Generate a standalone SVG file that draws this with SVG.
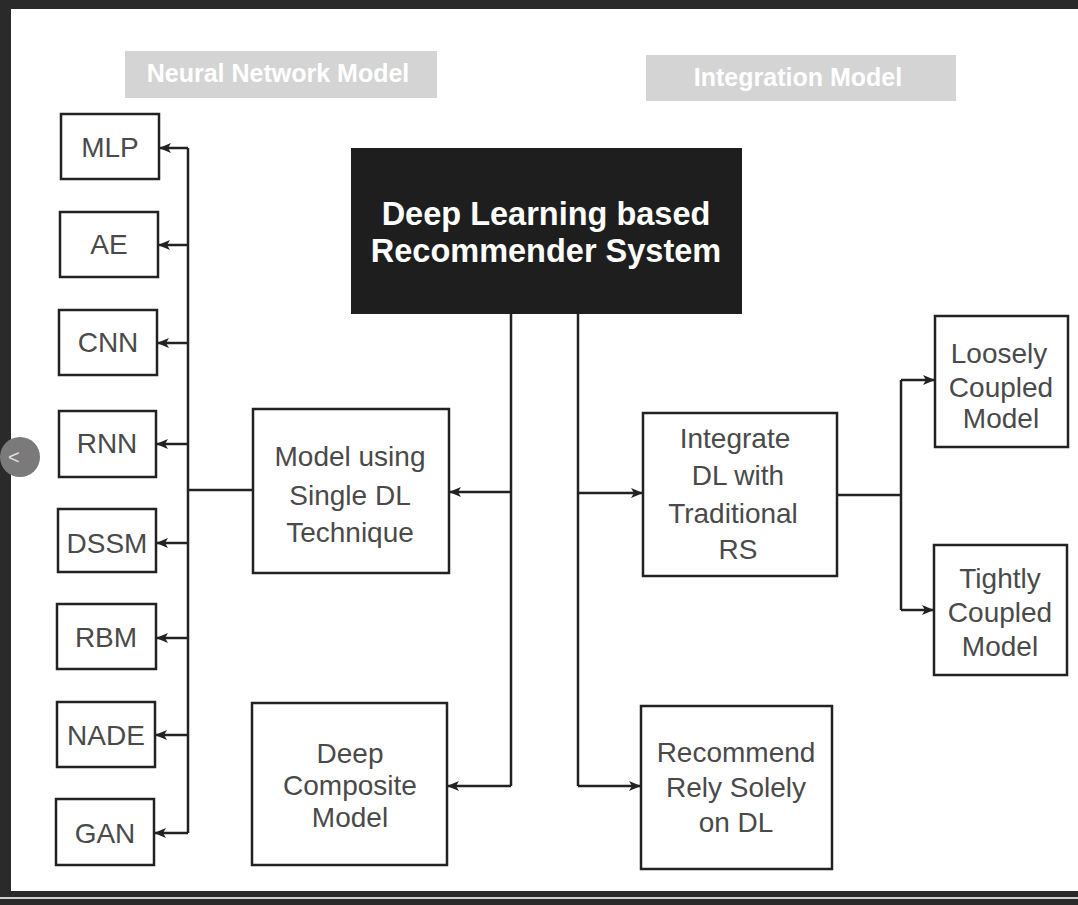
<svg xmlns="http://www.w3.org/2000/svg" width="1078" height="905" viewBox="0 0 1078 905">
<defs>
<marker id="ah" markerWidth="12" markerHeight="10" refX="11" refY="5" orient="auto" markerUnits="userSpaceOnUse">
<path d="M0,0 L12,5 L0,10 L3,5 z" fill="#222"/>
</marker>
<style>
.box{fill:#fff;stroke:#222;stroke-width:2.5}
.t{font-family:"Liberation Sans",Arial,sans-serif;font-size:28px;fill:#4a4a4a;text-anchor:middle}
.lbl{font-family:"Liberation Sans",Arial,sans-serif;font-size:25px;font-weight:bold;fill:#fff;text-anchor:middle}
.ln{fill:none;stroke:#222;stroke-width:2.5}
.arr{fill:none;stroke:#222;stroke-width:2.5;marker-end:url(#ah)}
</style>
</defs>
<rect x="0" y="0" width="1078" height="905" fill="#fff"/>
<rect x="0" y="0" width="1078" height="9" fill="#2a2a2a"/>
<rect x="0" y="0" width="11" height="905" fill="#2a2a2a"/>
<rect x="0" y="891" width="1078" height="6" fill="#2a2a2a"/>
<rect x="0" y="897" width="1078" height="2" fill="#cfcfcf"/>
<rect x="0" y="899" width="1078" height="6" fill="#2a2a2a"/>
<g id="nav">
<circle cx="20" cy="457" r="20" fill="#7a7a7a"/>
<text x="8" y="464" font-family="Liberation Sans,sans-serif" font-size="20" fill="#ddd">&lt;</text>
</g>

<g id="label-nn">
<rect x="125" y="51" width="312" height="47" fill="#d4d4d4"/>
<text class="lbl" x="278" y="82">Neural Network Model</text>
</g>
<g id="label-int">
<rect x="646" y="55" width="310" height="46" fill="#d4d4d4"/>
<text class="lbl" x="798" y="86">Integration Model</text>
</g>

<g id="connectors">
<polyline class="ln" points="188,148 188,833"/>
<line class="arr" x1="188" y1="148" x2="160" y2="148"/>
<line class="arr" x1="188" y1="245" x2="159" y2="245"/>
<line class="arr" x1="188" y1="343" x2="158" y2="343"/>
<line class="arr" x1="188" y1="444" x2="157" y2="444"/>
<line class="arr" x1="188" y1="543" x2="157" y2="543"/>
<line class="arr" x1="188" y1="638" x2="157" y2="638"/>
<line class="arr" x1="188" y1="735" x2="156" y2="735"/>
<line class="arr" x1="188" y1="833" x2="155" y2="833"/>
<line class="ln" x1="188" y1="490" x2="253" y2="490"/>
<polyline class="ln" points="511,314 511,786"/>
<line class="arr" x1="511" y1="492" x2="450" y2="492"/>
<line class="arr" x1="511" y1="786" x2="448" y2="786"/>
<polyline class="ln" points="578,314 578,786"/>
<line class="arr" x1="578" y1="493" x2="642" y2="493"/>
<line class="arr" x1="578" y1="786" x2="640" y2="786"/>
<line class="ln" x1="837" y1="495" x2="901" y2="495"/>
<polyline class="ln" points="901,380 901,610"/>
<line class="arr" x1="901" y1="380" x2="934" y2="380"/>
<line class="arr" x1="901" y1="610" x2="933" y2="610"/>
</g>

<g id="root">
<rect x="351" y="148" width="391" height="166" fill="#1e1e1e"/>
<text x="546" y="225" font-family="Liberation Sans,Arial,sans-serif" font-size="32.5" font-weight="bold" fill="#fff" text-anchor="middle">Deep Learning based</text>
<text x="546" y="262" font-family="Liberation Sans,Arial,sans-serif" font-size="32.5" font-weight="bold" fill="#fff" text-anchor="middle">Recommender System</text>
</g>

<g id="mlp"><rect class="box" x="61" y="114" width="98" height="65"/><text class="t" x="110" y="157">MLP</text></g>
<g id="ae"><rect class="box" x="60" y="212" width="98" height="65"/><text class="t" x="109" y="254">AE</text></g>
<g id="cnn"><rect class="box" x="59" y="310" width="98" height="65"/><text class="t" x="108" y="352">CNN</text></g>
<g id="rnn"><rect class="box" x="59" y="411" width="97" height="66"/><text class="t" x="107" y="453">RNN</text></g>
<g id="dssm"><rect class="box" x="58" y="509" width="98" height="63"/><text class="t" x="107" y="553" font-size="31">DSSM</text></g>
<g id="rbm"><rect class="box" x="57" y="604" width="99" height="65"/><text class="t" x="106" y="647">RBM</text></g>
<g id="nade"><rect class="box" x="57" y="702" width="98" height="65"/><text class="t" x="106" y="745">NADE</text></g>
<g id="gan"><rect class="box" x="56" y="799" width="98" height="66"/><text class="t" x="105" y="843">GAN</text></g>

<g id="single">
<rect class="box" x="253" y="409" width="196" height="164"/>
<text class="t" x="350" y="466" font-size="29">Model using</text>
<text class="t" x="350" y="505">Single DL</text>
<text class="t" x="350" y="542">Technique</text>
</g>
<g id="composite">
<rect class="box" x="252" y="703" width="195" height="162"/>
<text class="t" x="350" y="763">Deep</text>
<text class="t" x="350" y="795">Composite</text>
<text class="t" x="350" y="827">Model</text>
</g>
<g id="integrate">
<rect class="box" x="643" y="413" width="194" height="163"/>
<text class="t" x="735" y="448">Integrate</text>
<text class="t" x="738" y="485">DL with</text>
<text class="t" x="733" y="523">Traditional</text>
<text class="t" x="738" y="559">RS</text>
</g>
<g id="recommend">
<rect class="box" x="641" y="706" width="191" height="163"/>
<text class="t" x="736" y="762">Recommend</text>
<text class="t" x="736" y="797">Rely Solely</text>
<text class="t" x="736" y="832">on DL</text>
</g>
<g id="loosely">
<rect class="box" x="935" y="316" width="133" height="131"/>
<text class="t" x="999" y="363">Loosely</text>
<text class="t" x="1001" y="397">Coupled</text>
<text class="t" x="1001" y="428">Model</text>
</g>
<g id="tightly">
<rect class="box" x="934" y="545" width="133" height="130"/>
<text class="t" x="1000" y="588">Tightly</text>
<text class="t" x="1000" y="622">Coupled</text>
<text class="t" x="1000" y="656">Model</text>
</g>
</svg>
